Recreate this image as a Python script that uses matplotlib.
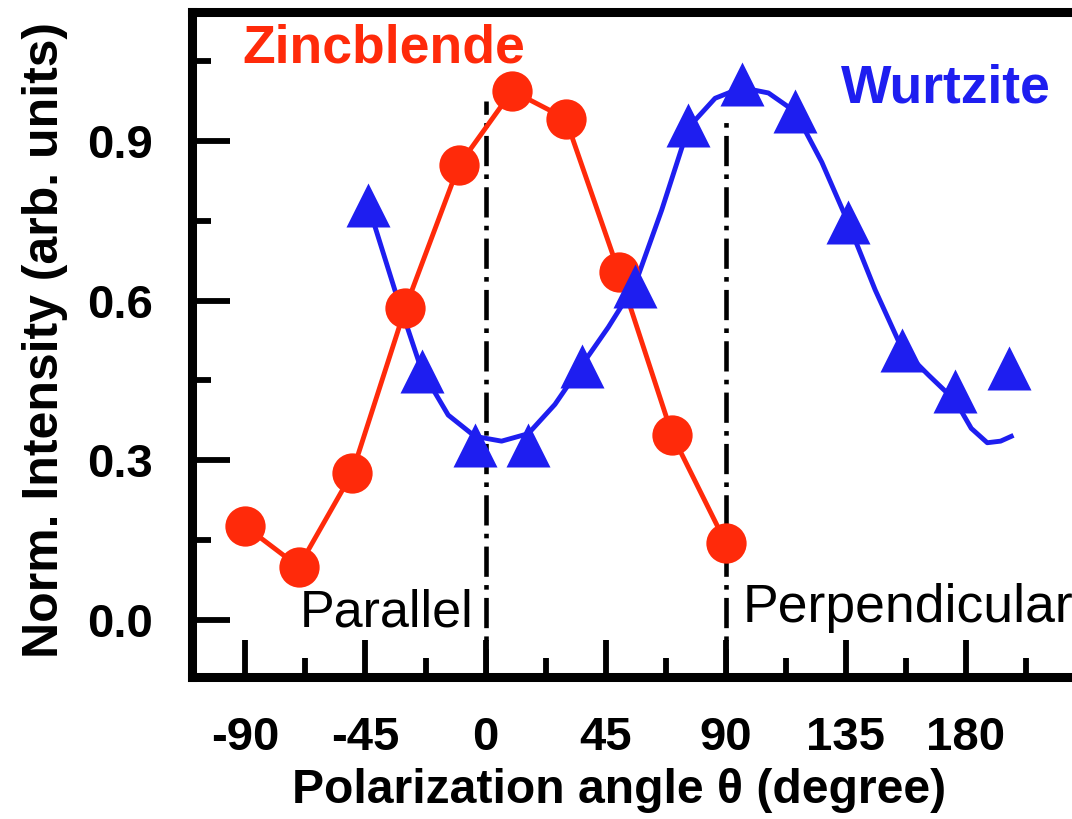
import numpy as np
import matplotlib
matplotlib.use("Agg")
import matplotlib.pyplot as plt
from matplotlib.ticker import MultipleLocator

plt.rcParams['font.family'] = ['Liberation Sans', 'DejaVu Sans']

# Zincblende (red circles)
zb_angle = [-90, -70, -50, -30, -10, 10, 30, 50, 70, 90]
zb_int = [0.176, 0.100, 0.276, 0.587, 0.854, 0.994, 0.942, 0.653, 0.347, 0.145]

# Wurtzite (blue triangles)
wz_angle = [-44, -24, -4, 16, 36, 56, 76, 96, 116, 136, 156, 176, 196]
wz_int = [0.780, 0.467, 0.328, 0.328, 0.478, 0.627, 0.929, 1.006, 0.957, 0.747, 0.508, 0.430, 0.474]

# Wurtzite fit curve
wz_fit_angle = [-44, -34, -24, -14, -4, 6, 16, 26, 36, 46, 56, 66, 76, 86,
                96, 106, 116, 126, 136, 146, 156, 166, 176, 182, 188, 193, 197]
wz_fit_int = [0.780, 0.620, 0.470, 0.385, 0.345, 0.336, 0.350, 0.405, 0.478, 0.550,
              0.630, 0.770, 0.925, 0.980, 1.000, 0.990, 0.955, 0.860, 0.745, 0.620,
              0.510, 0.460, 0.412, 0.360, 0.333, 0.336, 0.345]

xticks = [-90, -45, 0, 45, 90, 135, 180]
yticks = [0.0, 0.3, 0.6, 0.9]

red = '#FF2A0A'
blue = '#1E1EF0'

fig = plt.figure(figsize=(10.72, 8.19), dpi=100)
ax = fig.add_axes([0.1791, 0.1734, 0.8265, 0.8119])

ax.plot(zb_angle, zb_int, '-', color=red, lw=3.5, zorder=3)
ax.plot(zb_angle, zb_int, 'o', color=red, ms=29, mec='none', zorder=4)

ax.plot(wz_fit_angle, wz_fit_int, '-', color=blue, lw=3.5, zorder=3)
ax.plot(wz_angle, wz_int, '^', color=blue, ms=32, mec='none', zorder=4)

# polarization guide lines
dd = (0, (6.6, 1.8, 1.0, 1.8))
ax.plot([0, 0], [-0.11, 0.975], color='black', lw=3.3, linestyle=dd, zorder=2)
ax.plot([90, 90], [-0.11, 0.94], color='black', lw=3.3, linestyle=dd, zorder=2)

ax.text(-91, 1.047, 'Zincblende', color=red, fontsize=38.5, fontweight='bold')
ax.text(133, 0.973, 'Wurtzite', color=blue, fontsize=38.5, fontweight='bold')
ax.text(-69.7, -0.013, 'Parallel', color='black', fontsize=37.5)
ax.text(96.4, -0.004, 'Perpendicular', color='black', fontsize=38.5)

ax.set_xlim(-110, 222)
ax.set_ylim(-0.107, 1.142)
ax.set_xticks(xticks)
ax.set_xticklabels([str(v) for v in xticks])
ax.set_yticks(yticks)
ax.set_yticklabels(['%.1f' % v for v in yticks])
ax.xaxis.set_minor_locator(MultipleLocator(22.5))
ax.yaxis.set_minor_locator(MultipleLocator(0.15))

ax.tick_params(which='both', direction='in', top=False, right=False, width=4.2)
ax.tick_params(which='major', length=27, labelsize=34, pad=28)
ax.tick_params(which='minor', length=13.5)
for lab in ax.get_xticklabels() + ax.get_yticklabels():
    lab.set_fontweight('bold')

for s in ax.spines.values():
    s.set_linewidth(6.5)

ax.set_xlabel('Polarization angle \u03b8 (degree)', fontsize=34.7, fontweight='bold', labelpad=6)
ax.xaxis.label.set_x(0.482)
ax.set_ylabel('Norm. Intensity (arb. units)', fontsize=36, fontweight='bold', labelpad=14)
ax.yaxis.label.set_y(0.507)

fig.savefig('out.png', dpi=100)
